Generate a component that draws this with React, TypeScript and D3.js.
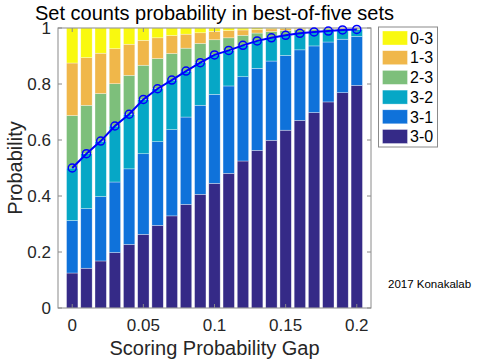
import React from "react";
import * as d3 from "d3";

// Scoring probability gap (x)
const gaps = [0, 0.01, 0.02, 0.03, 0.04, 0.05, 0.06, 0.07, 0.08, 0.09, 0.1, 0.11, 0.12, 0.13, 0.14, 0.15, 0.16, 0.17, 0.18, 0.19, 0.2];

// Outcome probabilities (stack order bottom -> top)
const p30 = [0.125, 0.142, 0.168, 0.198, 0.227, 0.263, 0.295, 0.329, 0.37, 0.406, 0.445, 0.481, 0.525, 0.563, 0.599, 0.635, 0.67, 0.698, 0.736, 0.769, 0.795];
const p31 = [0.1875, 0.213, 0.23, 0.252, 0.27, 0.288, 0.299, 0.308, 0.312, 0.318, 0.318, 0.312, 0.301, 0.293, 0.283, 0.267, 0.252, 0.238, 0.214, 0.191, 0.175];
const p32 = [0.1875, 0.196, 0.198, 0.2, 0.195, 0.194, 0.189, 0.177, 0.164, 0.152, 0.141, 0.127, 0.112, 0.098, 0.083, 0.072, 0.059, 0.05, 0.039, 0.033, 0.025];
const p23 = [0.1875, 0.173, 0.17, 0.151, 0.139, 0.122, 0.108, 0.095, 0.082, 0.069, 0.054, 0.045, 0.036, 0.028, 0.022, 0.017, 0.013, 0.01, 0.008, 0.005, 0.004];
const p13 = [0.1875, 0.17, 0.144, 0.125, 0.111, 0.089, 0.074, 0.064, 0.05, 0.038, 0.03, 0.026, 0.019, 0.013, 0.01, 0.007, 0.0045, 0.003, 0.0023, 0.0016, 0.0007];
const p03 = [0.125, 0.106, 0.09, 0.074, 0.058, 0.044, 0.035, 0.027, 0.022, 0.017, 0.012, 0.009, 0.007, 0.005, 0.003, 0.002, 0.0015, 0.001, 0.0007, 0.0004, 0.0003];

const seriesKeys = ["3-0", "3-1", "3-2", "2-3", "1-3", "0-3"];
const seriesValues = [p30, p31, p32, p23, p13, p03];
const seriesColors = ["#352a87", "#0f72da", "#06a7c6", "#7dbf7b", "#f0b74a", "#f9f90f"];
const legendOrder = ["0-3", "1-3", "2-3", "3-2", "3-1", "3-0"];

const xTicks = [0, 0.05, 0.1, 0.15, 0.2];
const xTickLabels = ["0", "0.05", "0.1", "0.15", "0.2"];
const yTicks = [0, 0.2, 0.4, 0.6, 0.8, 1];
const yTickLabels = ["0", "0.2", "0.4", "0.6", "0.8", "1"];

const FONT = "'Liberation Sans', Arial, sans-serif";

export default function App() {
  const W = 480, H = 360;
  const left = 58, right = 371, top = 28, bottom = 308;
  const x = d3.scaleLinear().domain([-0.01, 0.21]).range([left, right]);
  const y = d3.scaleLinear().domain([0, 1]).range([bottom, top]);
  const barW = (x(0.01) - x(0)) * 0.8;

  const table = gaps.map((g, i) => {
    const row: any = { gap: g };
    seriesKeys.forEach((k, j) => (row[k] = seriesValues[j][i]));
    return row;
  });
  const stacked = d3.stack().keys(seriesKeys)(table as any);
  const winProb = gaps.map((g, i) => p30[i] + p31[i] + p32[i]);
  const line = d3.line<number>().x((_, i) => x(gaps[i])).y((d) => y(d));

  const axisColor = "#8a8a8a";
  const tickLen = 4;
  const colorOf = (k: string) => seriesColors[seriesKeys.indexOf(k)];

  return (
    <svg width={W} height={H} style={{ position: "absolute", left: 0, top: 0, background: "#fff" }} fontFamily={FONT}>
      <rect x={0} y={0} width={W} height={H} fill="#fff" />
      {/* bars */}
      {stacked.map((s, j) => (
        <g key={s.key} fill={seriesColors[j]}>
          {s.map((d, i) => (
            <rect
              key={i}
              x={x(gaps[i]) - barW / 2}
              y={y(d[1])}
              width={barW}
              height={Math.max(0, y(d[0]) - y(d[1]))}
              stroke="#ffffff"
              strokeOpacity={0.55}
              strokeWidth={0.6}
            />
          ))}
        </g>
      ))}
      {/* axes box */}
      <rect x={left} y={top} width={right - left} height={bottom - top} fill="none" stroke={axisColor} strokeWidth={1} />
      {xTicks.map((t, i) => (
        <g key={"xt" + i}>
          <line x1={x(t)} x2={x(t)} y1={bottom} y2={bottom - tickLen} stroke={axisColor} />
          <line x1={x(t)} x2={x(t)} y1={top} y2={top + tickLen} stroke={axisColor} />
          <text x={x(t)} y={331} textAnchor="middle" fontSize={17} fill="#262626">{xTickLabels[i]}</text>
        </g>
      ))}
      {yTicks.map((t, i) => (
        <g key={"yt" + i}>
          <line x1={left} x2={left + tickLen} y1={y(t)} y2={y(t)} stroke={axisColor} />
          <line x1={right} x2={right - tickLen} y1={y(t)} y2={y(t)} stroke={axisColor} />
          <text x={51} y={y(t)} dy="0.36em" textAnchor="end" fontSize={17} fill="#262626">{yTickLabels[i]}</text>
        </g>
      ))}
      {/* win probability line */}
      <path d={line(winProb) || ""} fill="none" stroke="#0000ff" strokeWidth={2} />
      {winProb.map((v, i) => (
        <circle key={"m" + i} cx={x(gaps[i])} cy={y(v)} r={4} fill="none" stroke="#0000ff" strokeWidth={1.5} />
      ))}
      {/* labels */}
      <text x={(left + right) / 2} y={20} textAnchor="middle" fontSize={20} fill="#000">Set counts probability in best-of-five sets</text>
      <text x={(left + right) / 2} y={355} textAnchor="middle" fontSize={20} fill="#262626">Scoring Probability Gap</text>
      <text transform={`translate(22,${(top + bottom) / 2}) rotate(-90)`} textAnchor="middle" fontSize={20} fill="#262626">Probability</text>
      {/* legend */}
      <rect x={378.5} y={27} width={59} height={120} fill="#fff" stroke={axisColor} strokeWidth={1} />
      {legendOrder.map((k, i) => (
        <g key={"lg" + k} transform={`translate(0,${38 + i * 19.7})`}>
          <rect x={382.5} y={-7} width={25} height={14} fill={colorOf(k)} stroke="#ffffff" strokeOpacity={0.55} strokeWidth={0.6} />
          <text x={410} y={0} dy="0.36em" fontSize={16} fill="#000">{k}</text>
        </g>
      ))}
      <text x={388} y={288} fontSize={11.5} fill="#000">2017 Konakalab</text>
    </svg>
  );
}
